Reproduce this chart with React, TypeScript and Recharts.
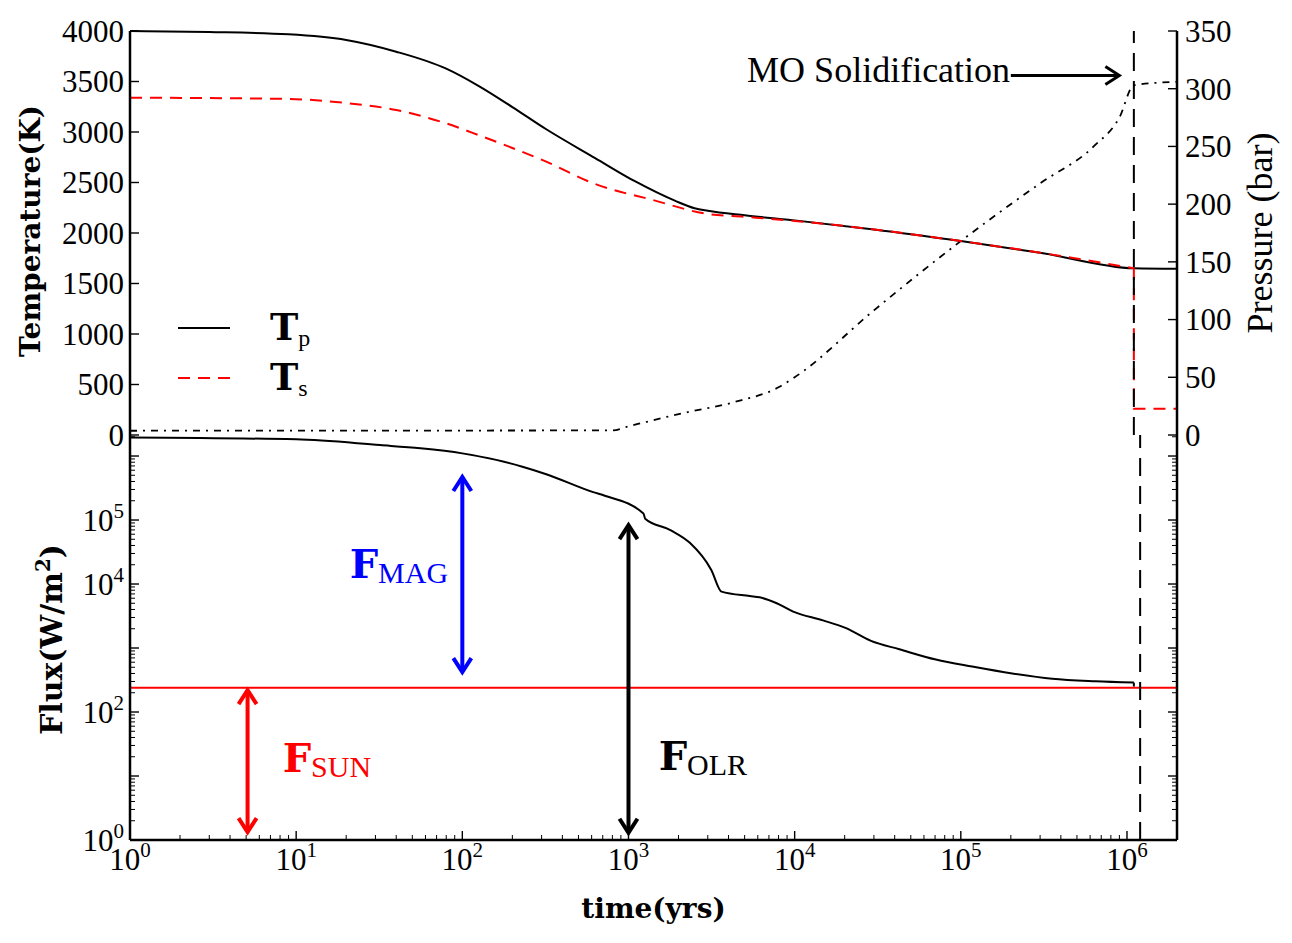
import React from "react";
import { LineChart, Line, XAxis, YAxis, ReferenceLine, ReferenceDot, Legend } from "recharts";

const SERIF = "'Liberation Serif', serif";
const WIDE = "'DejaVu Serif', serif";

// axis ranges and ticks
const T_MAX = 2e6;
const F_MAX = 2.13e6;
const DECADES = [1, 10, 100, 1e3, 1e4, 1e5, 1e6];
const MINOR = [2, 3, 4, 5, 6, 7, 8, 9];
const TEMP_TICKS = [0, 500, 1000, 1500, 2000, 2500, 3000, 3500, 4000];
const PRES_TICKS = [0, 50, 100, 150, 200, 250, 300, 350];
const FLUX_LABELED = [1, 1e2, 1e4, 1e5];

// potential temperature Tp (K)
const tpTime = [1, 3, 9, 20, 40, 80, 125, 200, 320, 630, 1100, 1900, 2500, 3000, 5000, 1e4, 3e4, 1e5, 3e5, 1.1e6, 2e6];
const tpVal = [4000, 3990, 3967, 3911, 3795, 3627, 3457, 3247, 3027, 2742, 2510, 2320, 2245, 2220, 2175, 2125, 2035, 1920, 1805, 1650, 1645];

// surface temperature Ts (K), cooling phase and after solidification
const tsTime = [1, 9, 20, 40, 80, 125, 200, 320, 630, 1400, 3000, 5000, 1e4, 3e4, 1e5, 3e5, 1.1e6];
const tsVal = [3340, 3327, 3287, 3218, 3085, 2970, 2842, 2706, 2485, 2327, 2188, 2160, 2120, 2035, 1920, 1805, 1650];
const tsAfterTime = [1.1e6, 1.1e6, 2e6];
const tsAfterVal = [1650, 260, 260];

// atmospheric pressure (bar)
const pTime = [1, 800, 1000, 2100, 4200, 8100, 1e4, 3e4, 1e5, 3e5, 6.3e5, 9e5, 1.1e6, 2e6];
const pVal = [3.7, 4, 7.5, 18.8, 28, 41.8, 50, 108, 168, 218, 250, 275, 303, 306];

// outgoing flux (W/m2)
const fTime = [1, 10, 32, 56, 100, 160, 230, 320, 620, 720, 1230, 1260, 1800, 2340, 3150, 3630, 5370, 6150, 7800, 9800, 14800, 20400, 28800, 42700, 70800, 1.17e5, 2.04e5, 3.55e5, 6.46e5, 1.1e6];
const fVal = [1.95e6, 1.82e6, 1.48e6, 1.32e6, 1.1e6, 8.7e5, 6.8e5, 5.2e5, 2.7e5, 2.4e5, 1.26e5, 1.05e5, 6.9e4, 4.4e4, 1.66e4, 7600, 6500, 6200, 5000, 3700, 2700, 2040, 1290, 955, 660, 513, 400, 331, 302, 288];
const fEndTime = [1.1e6, 1.1e6];
const fEndVal = [288, 250];

const F_SUN = 240;
const T_SOLID = 1.1e6;
const T_SOLID_FLUX = 1.2e6;

const logTicks = (max: number) =>
  DECADES.flatMap((d) => [d, ...MINOR.map((m) => m * d)]).filter((v) => v <= max);
const TIME_TICKS = logTicks(T_MAX);
const FLUX_TICKS = logTicks(F_MAX);

const rows = (ts: number[], vs: number[]) => ts.map((t, i) => ({ t, v: vs[i] }));
const tpRows = rows(tpTime, tpVal);
const tsRows = rows(tsTime, tsVal);
const tsAfterRows = rows(tsAfterTime, tsAfterVal);
const pRows = rows(pTime, pVal);
const fRows = rows(fTime, fVal);
const fEndRows = rows(fEndTime, fEndVal);

const AXIS = { stroke: "#000", strokeWidth: 2.5 };

const isDecade = (v: number) => Math.abs(Math.log10(v) - Math.round(Math.log10(v))) < 1e-6;

type Side = "top" | "bottom" | "left" | "right";
const tickMark = (side: Side, x: number, y: number, major: boolean) => {
  const len = major ? 9 : 5;
  const end =
    side === "bottom" ? [x, y - len] : side === "top" ? [x, y + len] : side === "left" ? [x + len, y] : [x - len, y];
  return <line x1={x} y1={y} x2={end[0]} y2={end[1]} stroke="#000" strokeWidth={major ? 1.4 : 1} />;
};

const Pow10 = ({ x, y, v, anchor }: { x: number; y: number; v: number; anchor: string }) => (
  <text x={x} y={y} textAnchor={anchor} fontFamily={SERIF} fontSize={31} fill="#000">
    10
    <tspan fontSize={21} dy={-13}>
      {Math.round(Math.log10(v))}
    </tspan>
  </text>
);

const timeTickTop = (p: any) => tickMark("top", p.x, p.y, isDecade(p.payload.value));

const timeTickBottom = (p: any) => {
  const v = p.payload.value;
  const major = isDecade(v);
  return (
    <g>
      {tickMark("bottom", p.x, p.y, major)}
      {major && <Pow10 x={p.x} y={p.y + 30} v={v} anchor="middle" />}
    </g>
  );
};

const tempTick = (p: any) => (
  <g>
    {tickMark("left", p.x, p.y, true)}
    <text x={p.x - 6} y={p.y} dy="0.35em" textAnchor="end" fontFamily={SERIF} fontSize={31} fill="#000">
      {p.payload.value}
    </text>
  </g>
);

const presTick = (p: any) => (
  <g>
    {tickMark("right", p.x, p.y, true)}
    <text x={p.x + 8} y={p.y} dy="0.35em" textAnchor="start" fontFamily={SERIF} fontSize={31} fill="#000">
      {p.payload.value}
    </text>
  </g>
);

const fluxTickLeft = (p: any) => {
  const v = p.payload.value;
  return (
    <g>
      {tickMark("left", p.x, p.y, isDecade(v))}
      {FLUX_LABELED.includes(v) && <Pow10 x={p.x - 6} y={p.y + 11} v={v} anchor="end" />}
    </g>
  );
};

const fluxTickRight = (p: any) => tickMark("right", p.x, p.y, isDecade(p.payload.value));

// rotated axis titles
const yTitle = (dx: number, dy: number, font: any, body: React.ReactNode) => (p: any) => {
  const vb = p.viewBox;
  const cx = vb.x + dx;
  const cy = vb.y + vb.height / 2 + dy;
  return (
    <text x={cx} y={cy} transform={`rotate(-90 ${cx} ${cy})`} textAnchor="middle" fill="#000" {...font}>
      {body}
    </text>
  );
};

const xTitle = (p: any) => {
  const vb = p.viewBox;
  return (
    <text x={vb.x + vb.width / 2} y={vb.y + 78} textAnchor="middle" fontFamily={WIDE} fontWeight="bold" fontSize={28} fill="#000">
      time(yrs)
    </text>
  );
};

// double / single headed arrows along a reference segment
const arrow = (color: string, both: boolean, sw = 4) => (p: any) => {
  const { x1, y1, x2, y2 } = p;
  const L = Math.hypot(x2 - x1, y2 - y1) || 1;
  const ux = (x2 - x1) / L;
  const uy = (y2 - y1) / L;
  const h = 14;
  const w = 9;
  const head = (tx: number, ty: number, dx: number, dy: number) =>
    `M ${tx - dx * h - dy * w} ${ty - dy * h + dx * w} L ${tx} ${ty} L ${tx - dx * h + dy * w} ${ty - dy * h - dx * w}`;
  return (
    <g stroke={color} strokeWidth={sw} fill="none" strokeLinejoin="miter">
      <line x1={x1} y1={y1} x2={x2} y2={y2} />
      <path d={head(x2, y2, ux, uy)} />
      {both && <path d={head(x1, y1, -ux, -uy)} />}
    </g>
  );
};

const note = (main: string, sub: string, color: string) => (p: any) => (
  <text x={p.cx} y={p.cy} fill={color}>
    <tspan fontFamily={WIDE} fontWeight="bold" fontSize={40}>
      {main}
    </tspan>
    <tspan fontFamily={SERIF} fontSize={30} dy={5}>
      {sub}
    </tspan>
  </text>
);

const solidLabel = (p: any) => (
  <text x={p.cx} y={p.cy} textAnchor="end" fontFamily={SERIF} fontSize={36} fill="#000">
    MO Solidification
  </text>
);

const LEGEND_ITEMS = [
  { sub: "p", color: "#000", dash: undefined },
  { sub: "s", color: "#ff0000", dash: "12 8" },
];

const renderLegend = () => (
  <svg width={170} height={110}>
    {LEGEND_ITEMS.map((s, i) => (
      <g key={s.sub}>
        <line x1={10} x2={62} y1={30 + i * 50} y2={30 + i * 50} stroke={s.color} strokeWidth={2} strokeDasharray={s.dash} />
        <text x={102} y={42 + i * 50} fill="#000">
          <tspan fontFamily={WIDE} fontWeight="bold" fontSize={38}>
            T
          </tspan>
          <tspan fontFamily={SERIF} fontSize={24} dy={6}>
            {s.sub}
          </tspan>
        </text>
      </g>
    ))}
  </svg>
);

export default function App() {
  return (
    <div style={{ position: "relative", width: 1284, height: 930, fontFamily: SERIF }}>
      <div style={{ position: "absolute", left: 0, top: 0 }}>
        <LineChart width={1284} height={450} margin={{ top: 23, right: 0, bottom: 23, left: 0 }}>
          <XAxis xAxisId="b" dataKey="t" type="number" scale="log" domain={[1, T_MAX]} allowDataOverflow
            ticks={TIME_TICKS} tick={false} tickLine={false} height={0} axisLine={AXIS} />
          <XAxis xAxisId="top" orientation="top" dataKey="t" type="number" scale="log" domain={[1, T_MAX]} allowDataOverflow
            ticks={TIME_TICKS} interval={0} tick={timeTickTop} tickLine={false} tickSize={0} tickMargin={0} height={0} axisLine={AXIS} />
          <YAxis yAxisId="T" type="number" domain={[0, 4000]} ticks={TEMP_TICKS} interval={0} width={122}
            tick={tempTick} tickLine={false} tickSize={0} tickMargin={0} axisLine={AXIS}
            label={yTitle(32, -2, { fontFamily: WIDE, fontWeight: "bold", fontSize: 28 }, "Temperature(K)")} />
          <YAxis yAxisId="P" orientation="right" type="number" domain={[0, 350]} ticks={PRES_TICKS} interval={0} width={115}
            tick={presTick} tickLine={false} tickSize={0} tickMargin={0} axisLine={AXIS}
            label={yTitle(95, 0, { fontFamily: SERIF, fontSize: 36 }, "Pressure (bar)")} />
          <Legend layout="vertical" align="center" verticalAlign="middle" content={renderLegend}
            wrapperStyle={{ position: "absolute", left: 160, top: 290, width: 170, height: 110 }} />
          <Line xAxisId="b" yAxisId="P" data={pRows} dataKey="v" name="P" legendType="none" type="monotone"
            stroke="#000" strokeWidth={1.8} strokeDasharray="7 6 2 6" dot={false} isAnimationActive={false} />
          <Line xAxisId="b" yAxisId="T" data={tpRows} dataKey="v" name="Tp" type="monotone"
            stroke="#000" strokeWidth={2} dot={false} isAnimationActive={false} />
          <Line xAxisId="b" yAxisId="T" data={tsRows} dataKey="v" name="Ts" type="monotone"
            stroke="#ff0000" strokeWidth={2} strokeDasharray="12 8" dot={false} isAnimationActive={false} />
          <Line xAxisId="b" yAxisId="T" data={tsAfterRows} dataKey="v" name="Ts after" legendType="none" type="linear"
            stroke="#ff0000" strokeWidth={2} strokeDasharray="12 8" dot={false} isAnimationActive={false} />
          <ReferenceLine xAxisId="b" yAxisId="T" x={T_SOLID} stroke="#000" strokeWidth={2} strokeDasharray="18 10" />
          <ReferenceLine xAxisId="b" yAxisId="T" segment={[{ x: 2.0e5, y: 3560 }, { x: 9.0e5, y: 3560 }]}
            shape={arrow("#000", false, 3)} />
          <ReferenceDot xAxisId="b" yAxisId="T" x={1.98e5} y={3495} shape={solidLabel} />
        </LineChart>
      </div>
      <div style={{ position: "absolute", left: 0, top: 417 }}>
        <LineChart width={1284} height={510} margin={{ top: 10, right: 0, bottom: 0, left: 0 }}>
          <XAxis xAxisId="b" dataKey="t" type="number" scale="log" domain={[1, T_MAX]} allowDataOverflow
            ticks={TIME_TICKS} interval={0} tick={timeTickBottom} tickLine={false} tickSize={0} tickMargin={0}
            height={95} axisLine={AXIS} label={xTitle} />
          <XAxis xAxisId="top" orientation="top" dataKey="t" type="number" scale="log" domain={[1, T_MAX]} allowDataOverflow
            ticks={TIME_TICKS} interval={0} tick={timeTickTop} tickLine={false} tickSize={0} tickMargin={0} height={0} axisLine={AXIS} />
          <YAxis yAxisId="F" type="number" scale="log" domain={[1, F_MAX]} allowDataOverflow ticks={FLUX_TICKS} interval={0}
            width={122} tick={fluxTickLeft} tickLine={false} tickSize={0} tickMargin={0} axisLine={AXIS}
            label={yTitle(54, 2, { fontFamily: WIDE, fontWeight: "bold", fontSize: 30 }, (
              <>
                Flux(W/m<tspan fontSize={20} dy={-12}>2</tspan>
                <tspan dy={12}>)</tspan>
              </>
            ))} />
          <YAxis yAxisId="F2" orientation="right" type="number" scale="log" domain={[1, F_MAX]} allowDataOverflow
            ticks={FLUX_TICKS} interval={0} width={115} tick={fluxTickRight} tickLine={false} tickSize={0} tickMargin={0}
            axisLine={AXIS} />
          <ReferenceLine xAxisId="b" yAxisId="F" y={F_SUN} stroke="#ff0000" strokeWidth={2} />
          <Line xAxisId="b" yAxisId="F" data={fRows} dataKey="v" name="Flux" type="monotone"
            stroke="#000" strokeWidth={2} dot={false} isAnimationActive={false} />
          <Line xAxisId="b" yAxisId="F" data={fEndRows} dataKey="v" name="Flux end" type="linear"
            stroke="#000" strokeWidth={2} dot={false} isAnimationActive={false} />
          <ReferenceLine xAxisId="b" yAxisId="F" x={T_SOLID_FLUX} stroke="#000" strokeWidth={2} strokeDasharray="18 10" />
          <ReferenceLine xAxisId="b" yAxisId="F" segment={[{ x: 100, y: 4.7e5 }, { x: 100, y: 420 }]} shape={arrow("#0000ff", true)} />
          <ReferenceLine xAxisId="b" yAxisId="F" segment={[{ x: 1000, y: 8.3e4 }, { x: 1000, y: 1.3 }]} shape={arrow("#000", true)} />
          <ReferenceLine xAxisId="b" yAxisId="F" segment={[{ x: 5.1, y: 220 }, { x: 5.1, y: 1.33 }]} shape={arrow("#ff0000", true)} />
          <ReferenceDot xAxisId="b" yAxisId="F" x={21} y={1.24e4} shape={note("F", "MAG", "#0000ff")} />
          <ReferenceDot xAxisId="b" yAxisId="F" x={8.3} y={11.5} shape={note("F", "SUN", "#ff0000")} />
          <ReferenceDot xAxisId="b" yAxisId="F" x={1520} y={12.4} shape={note("F", "OLR", "#000")} />
        </LineChart>
      </div>
    </div>
  );
}
